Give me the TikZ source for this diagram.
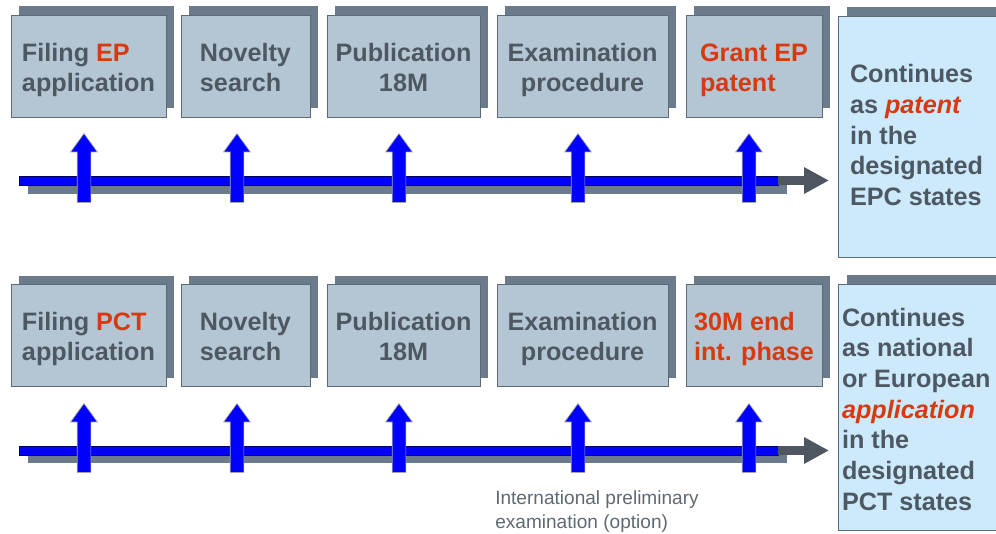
\documentclass[tikz,border=0pt]{standalone}
\usepackage{fontspec}
\setmainfont{Liberation Sans}
\usetikzlibrary{arrows.meta,shapes.arrows,shadows}
\definecolor{BoxFill}{HTML}{B4C6D4}
\definecolor{BoxShade}{HTML}{6B7B8C}
\definecolor{BoxLine}{HTML}{5E6A75}
\definecolor{TextGray}{HTML}{4E5862}
\definecolor{Signal}{HTML}{D63A10}
\definecolor{ResultFill}{HTML}{CCEAFB}
\definecolor{LeadGray}{HTML}{4E5761}
\newcommand{\capstrut}{\rule{0pt}{19pt}}
\newcommand{\descstrut}{\rule[-4pt]{0pt}{0pt}}

\begin{document}
\begin{tikzpicture}[
      x=0.75pt, y=-0.75pt,
      stage/.style={
        draw=BoxLine,
        fill=BoxFill,
        minimum height=76.5pt,
        inner sep=0pt,
        text=TextGray,
        font=\fontsize{18.9}{22.5}\selectfont\bfseries,
        general shadow={fill=BoxShade, shadow xshift=6pt, shadow yshift=6.75pt}
      },
      result/.style={
        draw=BoxLine,
        fill=ResultFill,
        minimum width=121.5pt,
        inner sep=0pt,
        general shadow={fill=BoxShade, shadow xshift=6.75pt, shadow yshift=6.75pt}
      },
      resulttext/.style={
        anchor=west,
        inner sep=0pt,
        align=left,
        text=TextGray,
        font=\fontsize{18.9}{23}\selectfont\bfseries
      },
      rise/.style={
        single arrow,
        rotate=90,
        anchor=tip,
        fill=blue,
        draw=gray!70,
        line width=0.5pt,
        inner xsep=0pt,
        inner ysep=4.875pt,
        minimum height=51.75pt,
        minimum width=19.5pt,
        single arrow head extend=4.875pt,
        single arrow tip angle=72
      },
      bar/.style={fill=blue, draw=blue!40!black, line width=0.4pt},
      barshade/.style={fill=BoxShade},
      lead/.style={-{Triangle[length=18.75pt, width=18.75pt]}, draw=LeadGray, line width=6.75pt},
      note/.style={anchor=north west, inner sep=0pt, align=left, text=TextGray!90,
        font=\fontsize{14.3}{18}\selectfont}
    ]
      \useasboundingbox (0,0) rectangle (996,533);
      \clip (0,0) rectangle (996,533);

      % EP route
      \node[stage, minimum width=116.25pt, align=left] (ep1) at (88.5,66) {\capstrut Filing \textcolor{Signal}{EP}\\application\descstrut};
      \node[stage, minimum width=96.75pt, align=left] (ep2) at (245.5,66) {\capstrut Novelty\\search\descstrut};
      \node[stage, minimum width=114.75pt, align=center] (ep3) at (403.5,66) {\capstrut Publication\\18M\descstrut};
      \node[stage, minimum width=128.25pt, align=center] (ep4) at (582.5,66) {\capstrut Examination\\procedure\descstrut};
      \node[stage, minimum width=102pt, align=left, text=Signal] (ep5) at (754,66) {\capstrut Grant EP\\patent\descstrut};
      \node[result, minimum height=180.75pt] (ep6) at (919,136.5) {};
      \node[resulttext] (ep6txt) at ([xshift=9pt,yshift=1pt]ep6.west) {Continues\\as \textcolor{Signal}{\textit{patent}}\\in the\\designated\\EPC states};

      \fill[barshade] (28,185) rectangle (787,194);
      \draw[bar] (19,176) rectangle (778,185);
      \coordinate (epbar) at (778,180.5);
      \coordinate (epend) at (829,180.5);
      \draw[lead] (epbar) -- (epend);

      \node[rise] (ep1up) at (84,133) {};
      \node[rise] (ep2up) at (237,133) {};
      \node[rise] (ep3up) at (399,133) {};
      \node[rise] (ep4up) at (578,133) {};
      \node[rise] (ep5up) at (749,133) {};

      % PCT route
      \node[stage, minimum width=116.25pt, align=left] (pct1) at (88.5,335.5) {\capstrut Filing \textcolor{Signal}{PCT}\\application\descstrut};
      \node[stage, minimum width=96.75pt, align=left] (pct2) at (245.5,335.5) {\capstrut Novelty\\search\descstrut};
      \node[stage, minimum width=114.75pt, align=center] (pct3) at (403.5,335.5) {\capstrut Publication\\18M\descstrut};
      \node[stage, minimum width=128.25pt, align=center] (pct4) at (582.5,335.5) {\capstrut Examination\\procedure\descstrut};
      \node[stage, minimum width=102pt, align=left, text=Signal] (pct5) at (754,335.5) {\capstrut 30M end\\int. phase\descstrut};
      \node[result, minimum height=184.5pt] (pct6) at (919,407) {};
      \node[resulttext] (pct6txt) at ([xshift=3pt,yshift=-1.5pt]pct6.west) {Continues\\as national\\or European\\\textcolor{Signal}{\textit{application}}\\in the\\designated\\PCT states};

      \fill[barshade] (28,455) rectangle (787,463);
      \draw[bar] (19,446) rectangle (778,455);
      \coordinate (pctbar) at (778,450.5);
      \coordinate (pctend) at (829,450.5);
      \draw[lead] (pctbar) -- (pctend);

      \node[rise] (pct1up) at (84,403) {};
      \node[rise] (pct2up) at (237,403) {};
      \node[rise] (pct3up) at (399,403) {};
      \node[rise] (pct4up) at (578,403) {};
      \node[rise] (pct5up) at (749,403) {};

      \node[note] (ipe) at (495,490) {International preliminary\\examination (option)};
    \end{tikzpicture}
\end{document}
